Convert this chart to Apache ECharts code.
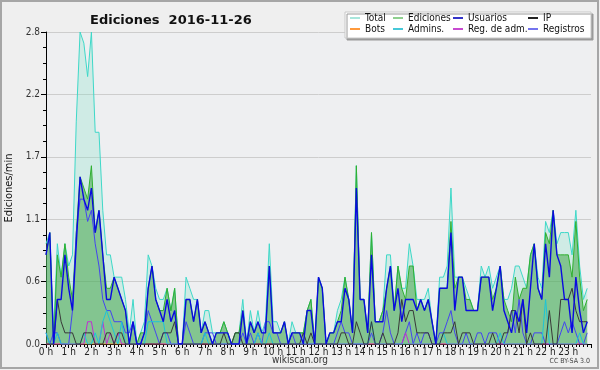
<!DOCTYPE html>
<html><head><meta charset="utf-8">
<script src="https://cdn.jsdelivr.net/npm/echarts@6/dist/echarts.min.js"></script>
<style>html,body{margin:0;padding:0;background:#efefef}#c{width:600px;height:370px}</style>
</head><body><div id="c"></div>
<script>
// 10-minute samples, 144 per day (edits per minute)
const total = [
0.9,1.0,0.1,0.9,0.6,0.9, 0.7,0.8,2.0,2.8,2.7,2.4, 2.8,1.9,1.9,1.2,0.8,0.8, 0.6,0.6,0.6,0.4,0.1,0.4,
0.0,0.1,0.2,0.8,0.7,0.5, 0.4,0.4,0.5,0.3,0.5,0.0, 0.0,0.6,0.5,0.4,0.4,0.1, 0.3,0.3,0.1,0.1,0.1,0.2,
0.1,0.0,0.1,0.1,0.4,0.0, 0.3,0.1,0.3,0.1,0.2,0.9, 0.2,0.2,0.1,0.2,0.0,0.2, 0.1,0.1,0.1,0.3,0.4,0.0,
0.6,0.5,0.0,0.1,0.1,0.3, 0.4,0.6,0.4,0.1,1.6,0.4, 0.4,0.1,1.0,0.2,0.2,0.3, 0.8,0.8,0.3,0.7,0.5,0.5,
0.9,0.7,0.4,0.4,0.4,0.5, 0.2,0.0,0.6,0.6,0.7,1.4, 0.6,0.6,0.6,0.5,0.4,0.3, 0.3,0.7,0.6,0.7,0.5,0.6,
0.7,0.4,0.4,0.5,0.7,0.7, 0.6,0.5,0.8,0.9,0.6,0.5, 1.1,1.0,1.2,0.9,1.0,1.0, 1.0,0.8,1.2,0.7,0.4,0.5];
const ediciones = [
0.8,1.0,0.0,0.8,0.6,0.9, 0.6,0.4,1.0,1.5,1.4,1.3, 1.6,1.0,1.2,0.8,0.5,0.5, 0.6,0.5,0.4,0.3,0.0,0.2,
0.0,0.1,0.1,0.5,0.7,0.4, 0.3,0.3,0.5,0.3,0.5,0.0, 0.0,0.4,0.4,0.2,0.4,0.1, 0.2,0.1,0.0,0.1,0.1,0.2,
0.1,0.0,0.1,0.1,0.3,0.0, 0.2,0.1,0.2,0.1,0.1,0.7, 0.1,0.1,0.1,0.2,0.0,0.1, 0.1,0.1,0.1,0.3,0.4,0.0,
0.6,0.5,0.0,0.1,0.1,0.2, 0.3,0.6,0.4,0.1,1.6,0.4, 0.4,0.1,1.0,0.2,0.2,0.3, 0.5,0.7,0.3,0.7,0.5,0.4,
0.7,0.7,0.3,0.4,0.3,0.4, 0.2,0.0,0.5,0.5,0.5,1.1, 0.5,0.6,0.6,0.4,0.4,0.3, 0.3,0.6,0.6,0.6,0.4,0.5,
0.7,0.4,0.3,0.2,0.6,0.4, 0.5,0.5,0.8,0.9,0.5,0.4, 1.0,0.9,1.2,0.8,0.8,0.8, 0.8,0.6,1.1,0.6,0.3,0.4];
const usuarios = [
0.8,1.0,0.0,0.4,0.4,0.8, 0.5,0.3,0.9,1.5,1.3,1.2, 1.4,1.0,1.2,0.8,0.4,0.4, 0.6,0.5,0.4,0.3,0.0,0.2,
0.0,0.0,0.1,0.5,0.7,0.4, 0.3,0.2,0.4,0.2,0.3,0.0, 0.0,0.4,0.4,0.2,0.4,0.1, 0.2,0.1,0.0,0.1,0.1,0.1,
0.1,0.0,0.0,0.0,0.3,0.0, 0.2,0.1,0.2,0.1,0.1,0.7, 0.1,0.1,0.1,0.2,0.0,0.1, 0.1,0.1,0.0,0.3,0.3,0.0,
0.6,0.5,0.0,0.1,0.1,0.2, 0.2,0.5,0.4,0.1,1.4,0.4, 0.4,0.1,0.8,0.2,0.2,0.2, 0.5,0.7,0.3,0.5,0.2,0.4,
0.4,0.4,0.3,0.4,0.3,0.4, 0.2,0.0,0.5,0.5,0.5,1.0, 0.3,0.6,0.6,0.3,0.3,0.3, 0.3,0.6,0.6,0.6,0.3,0.5,
0.7,0.3,0.2,0.1,0.3,0.2, 0.4,0.1,0.5,0.9,0.5,0.4, 0.9,0.6,1.2,0.8,0.7,0.4, 0.4,0.1,0.6,0.3,0.1,0.2];
const ip = [
0.0,0.0,0.0,0.4,0.2,0.1, 0.1,0.1,0.0,0.0,0.1,0.1, 0.1,0.0,0.0,0.0,0.1,0.1, 0.0,0.1,0.1,0.0,0.0,0.0,
0.0,0.0,0.0,0.0,0.0,0.0, 0.0,0.1,0.1,0.1,0.2,0.0, 0.0,0.0,0.0,0.0,0.0,0.0, 0.0,0.0,0.0,0.0,0.0,0.1,
0.0,0.0,0.1,0.1,0.0,0.0, 0.0,0.0,0.0,0.0,0.0,0.0, 0.0,0.0,0.0,0.0,0.0,0.0, 0.0,0.0,0.1,0.0,0.1,0.0,
0.0,0.0,0.0,0.0,0.0,0.0, 0.1,0.1,0.0,0.0,0.2,0.1, 0.0,0.0,0.2,0.0,0.0,0.1, 0.0,0.0,0.0,0.1,0.4,0.2,
0.3,0.3,0.1,0.1,0.1,0.1, 0.0,0.0,0.0,0.1,0.1,0.1, 0.2,0.0,0.1,0.1,0.1,0.0, 0.0,0.0,0.0,0.0,0.1,0.0,
0.0,0.1,0.1,0.3,0.3,0.1, 0.4,0.0,0.1,0.0,0.0,0.0, 0.0,0.3,0.0,0.0,0.4,0.4, 0.4,0.5,0.3,0.2,0.2,0.2];
const bots = [
0,0,0,0,0,0, 0,0,0,0,0,0, 0,0,0,0,0,0, 0,0,0,0,0,0, 0,0,0,0,0,0, 0,0,0,0,0,0, 0,0,0,0,0,0, 0,0,0,0,0,0,
0,0,0,0,0,0, 0,0,0,0,0,0, 0,0,0,0,0,0, 0,0,0,0,0,0, 0,0,0,0,0,0, 0,0,0,0,0,0, 0,0,0,0,0,0, 0,0,0,0,0,0,
0,0,0,0,0,0, 0,0,0,0,0,0, 0,0,0,0,0,0, 0,0,0,0,0,0, 0,0,0,0,0,0, 0,0,0,0,0,0, 0,0,0,0,0,0, 0,0,0,0,0,0];
const admins = [
0.1,0.0,0.0,0.1,0.0,0.0, 0.0,0.0,0.0,0.0,0.1,0.0, 0.0,0.1,0.0,0.2,0.3,0.2, 0.1,0.0,0.2,0.0,0.0,0.0,
0.0,0.0,0.0,0.2,0.2,0.2, 0.2,0.2,0.0,0.0,0.0,0.0, 0.0,0.0,0.0,0.0,0.0,0.0, 0.1,0.0,0.0,0.0,0.0,0.0,
0.0,0.0,0.0,0.0,0.0,0.0, 0.0,0.0,0.1,0.0,0.0,0.1, 0.0,0.0,0.0,0.0,0.0,0.0, 0.0,0.0,0.0,0.0,0.0,0.0,
0.0,0.0,0.0,0.0,0.0,0.0, 0.0,0.0,0.0,0.0,0.0,0.0, 0.0,0.0,0.2,0.0,0.0,0.0, 0.0,0.0,0.0,0.0,0.0,0.0,
0.0,0.0,0.0,0.0,0.0,0.0, 0.0,0.0,0.0,0.1,0.0,0.0, 0.0,0.0,0.0,0.0,0.0,0.0, 0.0,0.0,0.0,0.0,0.0,0.0,
0.1,0.0,0.0,0.0,0.0,0.0, 0.0,0.0,0.0,0.0,0.0,0.0, 0.4,0.0,0.0,0.0,0.0,0.0, 0.0,0.0,0.0,0.1,0.0,0.0];
const regAdm = [
0,0,0,0,0,0, 0,0,0,0,0,0.2, 0.2,0,0,0.2,0,0.1, 0,0.1,0,0,0,0, 0,0,0,0,0,0, 0,0,0,0,0,0, 0,0,0,0,0,0, 0,0,0,0,0,0,
0,0,0,0,0,0, 0,0,0,0,0,0, 0,0,0,0,0,0, 0,0,0,0,0,0, 0,0,0,0,0,0, 0,0,0,0,0,0, 0,0,0,0,0,0, 0,0,0,0,0,0.1,
0,0,0,0,0,0, 0,0,0,0,0,0, 0,0,0,0,0,0, 0,0,0,0,0,0, 0,0,0,0,0,0, 0,0,0,0,0,0, 0,0,0,0,0,0, 0,0,0,0,0,0];
const registros = [
0.1,0.0,0.1,0.1,0.0,0.0, 0.0,0.3,1.0,1.3,1.3,1.1, 1.2,0.9,0.7,0.4,0.3,0.3, 0.2,0.2,0.2,0.1,0.1,0.2,
0.0,0.0,0.1,0.3,0.2,0.1, 0.0,0.1,0.1,0.0,0.0,0.0, 0.0,0.2,0.1,0.0,0.0,0.0, 0.1,0.1,0.1,0.0,0.0,0.0,
0.0,0.0,0.0,0.0,0.1,0.0, 0.1,0.0,0.1,0.0,0.2,0.2, 0.1,0.1,0.0,0.0,0.0,0.1, 0.0,0.0,0.0,0.0,0.0,0.0,
0.0,0.0,0.0,0.0,0.0,0.1, 0.2,0.1,0.1,0.0,0.0,0.0, 0.0,0.0,0.1,0.0,0.0,0.1, 0.3,0.1,0.0,0.0,0.0,0.1,
0.2,0.0,0.1,0.0,0.1,0.1, 0.0,0.0,0.1,0.1,0.2,0.3, 0.1,0.0,0.0,0.1,0.0,0.0, 0.1,0.1,0.0,0.1,0.1,0.1,
0.0,0.0,0.1,0.3,0.1,0.4, 0.1,0.0,0.0,0.1,0.1,0.1, 0.0,0.0,0.0,0.0,0.1,0.2, 0.1,0.2,0.1,0.0,0.0,0.1];
const hourTicks = [0,1,2,3,4,5,6,7,8,9,10,11,12,13,14,15,16,17,18,19,20,21,22,23];
const yTicks = [0, 0.56, 1.12, 1.68, 2.24, 2.8];

const F = '"DejaVu Sans Condensed","DejaVu Sans",sans-serif';
const chart = echarts.init(document.getElementById('c'));
const pts = arr => arr.map((v, i) => [i / 6, v]);
function line(name, data, color, width, area, z) {
  return {
    name, type: 'line', data: pts(data), symbol: 'none', z: z,
    lineStyle: { color, width }, itemStyle: { color },
    areaStyle: area ? { color: area, opacity: 1 } : undefined,
    animation: false
  };
}
const legendItems = [
  ['Total', '#a8e6dc', 350, 13], ['Bots', '#ff9a3c', 350, 24],
  ['Ediciones', '#8fd08f', 393, 13], ['Admins.', '#46c8d8', 393, 24],
  ['Usuarios', '#3434c8', 453, 13], ['Reg. de adm.', '#c84ad0', 453, 24],
  ['IP', '#222222', 528, 13], ['Registros', '#7474ee', 528, 24]
];
chart.setOption({
  backgroundColor: '#efefef',
  animation: false,
  title: {
    text: 'Ediciones  2016-11-26', left: 85, top: 9,
    textStyle: { fontFamily: '"DejaVu Sans",sans-serif', fontSize: 13, fontWeight: 'bold', color: '#111' }
  },
  grid: { left: 46, right: 9, top: 32, bottom: 26, show: true, backgroundColor: '#eeeff1', borderWidth: 0,
          containLabel: false, outerBoundsMode: 'none' },
  legend: legendItems.map(([n, c, x, y]) => ({
    data: [{ name: n, itemStyle: { color: c } }],
    left: x, top: y, padding: 0, itemWidth: 10, itemHeight: 2, icon: 'rect',
    selectedMode: false, z: 20,
    textStyle: { fontFamily: F, fontSize: 10, color: '#111' }
  })),
  xAxis: {
    type: 'value', min: 0, max: 24, interval: 1,
    axisLine: { lineStyle: { color: '#000', width: 1 } },
    axisTick: { length: 4, lineStyle: { color: '#000' } },
    minorTick: { show: true, splitNumber: 6, length: 3, lineStyle: { color: '#000' } },
    splitLine: { show: false },
    axisLabel: {
      fontFamily: F, fontSize: 10, color: '#222', margin: 3,
      formatter: v => (hourTicks.includes(v) ? v + ' h' : '')
    }
  },
  yAxis: {
    type: 'value', min: 0, max: 2.8, interval: 0.56,
    name: 'Ediciones/min', nameLocation: 'middle', nameGap: 30, nameRotate: 90,
    nameTextStyle: { fontFamily: F, fontSize: 11, color: '#111' },
    axisLine: { show: true, lineStyle: { color: '#000' } },
    axisTick: { show: true, length: 5, lineStyle: { color: '#000' } },
    minorTick: { show: true, splitNumber: 4, length: 3, lineStyle: { color: '#000' } },
    splitLine: { show: true, lineStyle: { color: '#cdcdcd', width: 1 } },
    axisLabel: {
      fontFamily: F, fontSize: 10, color: '#333', margin: 6,
      formatter: v => v.toFixed(1)
    }
  },
  graphic: [
    { type: 'rect', shape: { x: 1, y: 1, width: 597, height: 367 }, style: { fill: 'none', stroke: '#a6a6a6', lineWidth: 2 }, z: 100, silent: true },
    { type: 'rect', shape: { x: 345, y: 12, width: 246, height: 26 }, style: { fill: '#ffffff', stroke: '#c8c8c8', lineWidth: 1, shadowColor: '#9a9a9a', shadowOffsetX: 2, shadowOffsetY: 2, shadowBlur: 0 }, z: 10, silent: true },
    { type: 'text', left: 'center', top: 355, style: { text: 'wikiscan.org', font: '10px ' + F, fill: '#333' } },
    { type: 'text', right: 10, top: 358, style: { text: 'CC BY-SA 3.0', font: '7px ' + F, fill: '#444' } }
  ],
  series: [
    line('Total', total, '#3ed8c8', 1, 'rgba(130,228,196,0.28)', 2),
    line('Ediciones', ediciones, '#30b030', 1, 'rgba(56,160,60,0.5)', 3),
    line('Bots', bots, '#ff9a3c', 1, null, 4),
    line('Registros', registros, '#4444f0', 1, null, 5),
    line('Reg. de adm.', regAdm, '#c030d0', 1, null, 6),
    line('Admins.', admins, '#1cc4d8', 1, null, 7),
    line('IP', ip, '#383838', 1, null, 8),
    line('Usuarios', usuarios, '#0a0ae0', 1.4, null, 9)
  ]
});
</script></body></html>
